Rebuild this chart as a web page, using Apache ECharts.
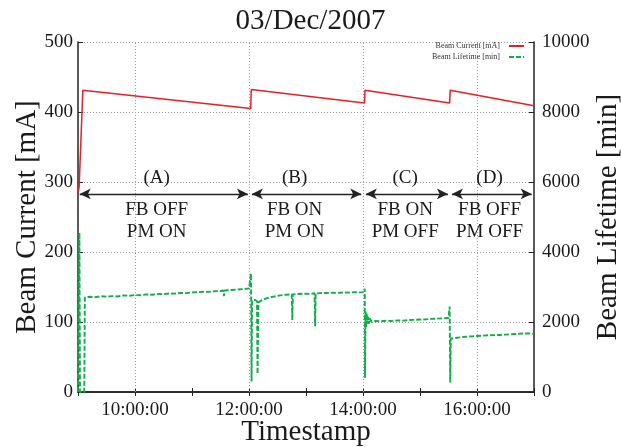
<!DOCTYPE html>
<html>
<head>
    <meta charset="utf-8"/>
    <title>Beam Current / Lifetime</title>
    <script src="https://cdn.jsdelivr.net/npm/echarts@6/dist/echarts.min.js"></script>
    <style>
        html, body { margin: 0; padding: 0; background: #fff; }
        #main { width: 621px; height: 447px; }
    </style>
</head>
<body>
<div id="main"></div>
<script>
    // 时间用小数小时表示 (9.5 = 09:30)
    var currentTime = [9.0, 9.02, 9.085, 12.03, 12.04, 14.025, 14.035, 15.52, 15.53, 17.0];
    var currentVal  = [285, 293, 431, 405, 432, 413, 431, 413, 431, 409];

    var lifeTime = [
        9.0, 9.025, 9.035, 9.11, 9.12, 9.2, 9.3, 9.4, 9.5, 9.6, 9.7, 9.8, 9.9, 10.0,
        10.1, 10.2, 10.3, 10.4, 10.5, 10.6, 10.7, 10.8, 10.9, 11.0, 11.1, 11.2, 11.3, 11.4,
        11.5, 11.55, 11.56, 11.57, 11.6, 11.7, 11.8, 11.9, 12.0, 12.03,
        12.035, 12.045, 12.055, 12.1, 12.14, 12.15, 12.165, 12.25, 12.35, 12.45, 12.55, 12.65,
        12.75, 12.76, 12.77, 12.85, 12.95, 13.05, 13.15, 13.16, 13.17, 13.25, 13.35, 13.45,
        13.55, 13.65, 13.75, 13.85, 13.95, 14.02,
        14.03, 14.035, 14.045, 14.055, 14.065, 14.075, 14.09, 14.1, 14.12, 14.15, 14.2, 14.3,
        14.4, 14.5, 14.6, 14.7, 14.8, 14.9, 15.0, 15.1, 15.2, 15.3, 15.4, 15.5, 15.515,
        15.52, 15.53, 15.54, 15.6, 15.7, 15.8, 15.9, 16.0, 16.1, 16.2, 16.3, 16.4, 16.5,
        16.6, 16.7, 16.8, 16.9, 17.0
    ];
    var lifeVal = [
        0, 4550, 0, 0, 2700, 2720, 2710, 2735, 2725, 2740, 2730, 2760, 2750, 2770,
        2765, 2790, 2780, 2800, 2795, 2815, 2810, 2830, 2825, 2845, 2850, 2865, 2860, 2880,
        2885, 2900, 2740, 2900, 2905, 2915, 2930, 2940, 2960, 2950,
        3380, 300, 2620, 2630, 2600, 520, 2560, 2650, 2700, 2730, 2760, 2780,
        2790, 2060, 2790, 2800, 2810, 2805, 2820, 1880, 2815, 2825, 2830, 2835,
        2830, 2845, 2840, 2850, 2845, 2855,
        2950, 400, 2300, 1850, 2250, 1950, 2150, 1950, 2100, 2000, 2030, 2020,
        2035, 2030, 2045, 2040, 2055, 2060, 2070, 2075, 2090, 2095, 2105, 2115, 2120,
        2440, 270, 1520, 1540, 1560, 1580, 1590, 1600, 1610, 1620, 1625, 1630, 1640,
        1650, 1660, 1670, 1675, 1660
    ];

    var phaseNames  = ['(A)', '(B)', '(C)', '(D)'];
    var phaseStates = ['FB OFF\nPM ON', 'FB ON\nPM ON', 'FB ON\nPM OFF', 'FB OFF\nPM OFF'];
    var phaseFrom   = [9.03, 12.05, 14.05, 15.56];
    var phaseTo     = [11.98, 13.97, 15.49, 16.96];
    var phaseMid    = [10.38, 12.8, 14.74, 16.22];

    var xTicks = [10, 12, 14, 16];

    var serif = 'Liberation Serif';

    function pairs(xs, ys) {
        var out = [];
        for (var i = 0; i < xs.length; i++) out.push([xs[i], ys[i]]);
        return out;
    }

    function hhmm(v) {
        var h = Math.round(v);
        return (h < 10 ? '0' : '') + h + ':00:00';
    }

    // 阶段箭头
    var arrows = [];
    for (var i = 0; i < phaseNames.length; i++) {
        arrows.push([{coord: [phaseFrom[i], 283]}, {coord: [phaseTo[i], 283]}]);
    }
    // 竖直网格线 (只在偶数整点)
    var vGrid = [];
    for (var j = 0; j < xTicks.length; j++) vGrid.push({xAxis: xTicks[j]});

    var labels = [];
    for (var k = 0; k < phaseNames.length; k++) {
        labels.push({coord: [phaseMid[k], 305], value: phaseNames[k]});
        labels.push({coord: [phaseMid[k], 244], value: phaseStates[k]});
    }

    var chart = echarts.init(document.getElementById('main'));
    var option = {
        animation: false,
        backgroundColor: '#fff',
        title: {
            text: '03/Dec/2007',
            left: 'center',
            top: 2,
            textStyle: {fontFamily: serif, fontWeight: 'normal', fontSize: 29, color: '#1a1a1a'}
        },
        legend: {
            right: 96,
            top: 42,
            padding: 0,
            orient: 'vertical',
            align: 'right',
            itemGap: 3,
            itemWidth: 15,
            itemHeight: 8,
            itemStyle: {opacity: 0},
            textStyle: {fontFamily: serif, fontSize: 8, color: '#333', padding: [0, 4, 0, 0]},
            data: ['Beam Current [mA]', 'Beam Lifetime [min]']
        },
        grid: {left: 78, right: 87, top: 42, bottom: 55, outerBoundsMode: 'none'},
        xAxis: [{
            type: 'value',
            min: 9,
            max: 17,
            interval: 1,
            name: 'Timestamp',
            nameLocation: 'middle',
            nameGap: 26,
            nameMoveOverlap: false,
            nameTextStyle: {fontFamily: serif, fontSize: 29, color: '#1a1a1a', verticalAlign: 'top'},
            axisLine: {lineStyle: {color: '#222', width: 1.5}},
            axisTick: {inside: true, length: 4, lineStyle: {color: '#222'}},
            axisLabel: {
                fontFamily: serif, fontSize: 19, color: '#1a1a1a', margin: 9,
                formatter: function (v) { return (Math.round(v) % 2 === 0 && v > 9 && v < 17) ? hhmm(v) : ''; }
            },
            splitLine: {show: false}
        }, {
            type: 'value',
            position: 'top',
            min: 9,
            max: 17,
            interval: 1,
            axisLine: {show: true, lineStyle: {color: '#222', width: 1.5}},
            axisTick: {inside: true, length: 4, lineStyle: {color: '#222'}},
            axisLabel: {show: false},
            splitLine: {show: false}
        }],
        yAxis: [{
            type: 'value',
            min: 0,
            max: 500,
            interval: 100,
            name: 'Beam Current [mA]',
            nameLocation: 'middle',
            nameGap: 36,
            nameMoveOverlap: false,
            nameTextStyle: {fontFamily: serif, fontSize: 29, color: '#1a1a1a'},
            axisLine: {show: true, lineStyle: {color: '#222', width: 1.5}},
            axisTick: {show: true, inside: true, length: 5, lineStyle: {color: '#222'}},
            axisLabel: {fontFamily: serif, fontSize: 19, color: '#1a1a1a', margin: 5},
            splitLine: {show: true, lineStyle: {color: '#999', type: [1, 2], width: 1}}
        }, {
            type: 'value',
            min: 0,
            max: 10000,
            interval: 2000,
            position: 'right',
            name: 'Beam Lifetime [min]',
            nameLocation: 'middle',
            nameGap: 60,
            nameRotate: 90,
            nameMoveOverlap: false,
            nameTextStyle: {fontFamily: serif, fontSize: 29, color: '#1a1a1a'},
            axisLine: {show: true, lineStyle: {color: '#222', width: 1.5}},
            axisTick: {show: true, inside: true, length: 5, lineStyle: {color: '#222'}},
            axisLabel: {
                fontFamily: serif, fontSize: 19, color: '#1a1a1a', margin: 8,
                formatter: function (v) { return String(v); }
            },
            splitLine: {show: false}
        }],
        series: [{
            name: 'Beam Current [mA]',
            type: 'line',
            xAxisIndex: 0,
            yAxisIndex: 0,
            showSymbol: false,
            symbol: 'none',
            lineStyle: {color: '#ee1c25', width: 1.5},
            itemStyle: {color: '#ee1c25'},
            data: pairs(currentTime, currentVal),
            z: 3,
            markLine: {
                silent: true,
                symbol: 'none',
                label: {show: false},
                lineStyle: {color: '#999', type: [1, 2], width: 1},
                data: vGrid
            }
        }, {
            name: 'Beam Lifetime [min]',
            type: 'line',
            xAxisIndex: 0,
            yAxisIndex: 1,
            showSymbol: false,
            symbol: 'none',
            lineStyle: {color: '#0fae48', width: 1.9, type: [5, 2]},
            itemStyle: {color: '#0fae48'},
            data: pairs(lifeTime, lifeVal),
            z: 2
        }, {
            name: 'phases',
            type: 'line',
            xAxisIndex: 0,
            yAxisIndex: 0,
            data: [],
            markLine: {
                silent: true,
                symbol: ['arrow', 'arrow'],
                symbolSize: [8, 11],
                label: {show: false},
                lineStyle: {color: '#222', type: 'solid', width: 1.4},
                data: arrows
            },
            markPoint: {
                silent: true,
                symbol: 'circle',
                symbolSize: 0,
                label: {
                    show: true,
                    position: 'inside',
                    formatter: function (p) { return p.value; },
                    fontFamily: serif,
                    fontSize: 19,
                    lineHeight: 22,
                    color: '#1a1a1a'
                },
                data: labels
            }
        }]
    };
    chart.setOption(option);
</script>
</body>
</html>
